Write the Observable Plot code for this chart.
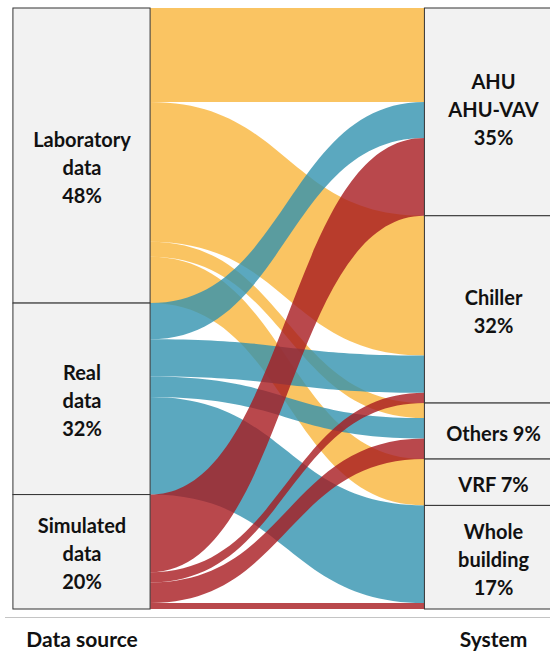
<!DOCTYPE html>
<html>
<head>
<meta charset="utf-8">
<script src="https://cdn.jsdelivr.net/npm/d3@7"></script>
<script src="https://cdn.jsdelivr.net/npm/@observablehq/plot@0.6"></script>
<style>
  html, body { margin: 0; padding: 0; background: #ffffff; }
</style>
</head>
<body>
<div id="chart"></div>
<script>
// ---- data ----
const sources = ["Laboratory data", "Real data", "Simulated data"];
const sourceLabels = ["Laboratory\ndata\n48%", "Real\ndata\n32%", "Simulated\ndata\n20%"];
const targets = ["AHU AHU-VAV", "Chiller", "Others", "VRF", "Whole building"];
const targetLabels = ["AHU\nAHU-VAV\n35%", "Chiller\n32%", "Others 9%", "VRF 7%", "Whole\nbuilding\n17%"];
// share (%) of studies from each data source going to each system (targets order)
const labToSystem = [15.6, 23.2, 2.5, 7.7, 0];
const realToSystem = [6.0, 6.2, 3.4, 0, 16.2];
const simToSystem = [12.9, 1.7, 3.4, 0, 1.0];
const axisLabels = ["Data source", "System"];
const sourceColors = ["#f9b53b", "#3292af", "#a71a1f"];

// ---- layout ----
const matrix = [labToSystem, realToSystem, simToSystem];
const total = d3.sum(matrix.flat());
const W = 1 / 3; // stratum width in x units

const nodes = [];
let acc = 0;
sources.forEach((s, i) => {
  const v = d3.sum(matrix[i]);
  nodes.push({name: s, label: sourceLabels[i], x: 1, y0: acc, y1: acc + v});
  acc += v;
});
acc = 0;
targets.forEach((t, j) => {
  const v = d3.sum(matrix, (row) => row[j]);
  nodes.push({name: t, label: targetLabels[j], x: 2, y0: acc, y1: acc + v});
  acc += v;
});

const flows = [];
sources.forEach((s, i) => {
  targets.forEach((t, j) => {
    if (matrix[i][j] > 0) flows.push({id: s + "→" + t, source: s, i, j, v: matrix[i][j]});
  });
});
// left side stacking: by target order within each source
sources.forEach((s, i) => {
  let off = nodes[i].y0;
  flows.filter((f) => f.i === i).sort((a, b) => a.j - b.j).forEach((f) => { f.ly0 = off; off += f.v; f.ly1 = off; });
});
// right side stacking: by source order within each target
targets.forEach((t, j) => {
  let off = nodes[sources.length + j].y0;
  flows.filter((f) => f.j === j).sort((a, b) => a.i - b.i).forEach((f) => { f.ry0 = off; off += f.v; f.ry1 = off; });
});
const flowPoints = flows.flatMap((f) => [
  {id: f.id, source: f.source, x: 1 + W / 2, y0: f.ly0, y1: f.ly1},
  {id: f.id, source: f.source, x: 2 - W / 2, y0: f.ry0, y1: f.ry1}
]);

// ---- scales geometry ----
const width = 550, height = 651;
const marginTop = 7, marginBottom = 34, marginLeft = 5, marginRight = 0;
const pxPerUnit = 601 / total;
const yLo = -1 / pxPerUnit;
const yHi = yLo + (height - marginTop - marginBottom) / pxPerUnit;
const xPx = 411.5; // pixels between the two axes
const xDomain = [1 - 76.5 / xPx, 2 + (width - marginLeft - 76.5 - xPx) / xPx];

const nudge = {"Laboratory data": 10, "AHU AHU-VAV": -4};
const labelFont = {fontSize: 20, fontWeight: "bold", lineHeight: 1.4, fill: "#111111"};

const chart = Plot.plot({
  width, height, marginTop, marginBottom, marginLeft, marginRight,
  style: {fontFamily: "Lato, sans-serif", background: "#ffffff", overflow: "visible"},
  x: {domain: xDomain, label: null},
  y: {domain: [yLo, yHi], reverse: true, axis: null},
  color: {domain: sources, range: sourceColors},
  marks: [
    Plot.area(flowPoints, {
      x1: "x", y1: "y0", y2: "y1", z: "id", fill: "source",
      fillOpacity: 0.8, curve: "bump-x"
    }),
    Plot.rect(nodes, {
      x1: (d) => d.x - W / 2, x2: (d) => d.x + W / 2, y1: "y0", y2: "y1",
      fill: "#f2f2f2", stroke: "#333333", strokeWidth: 1, clip: true
    }),
    Plot.text(nodes.filter((d) => !(d.name in nudge)), {
      x: "x", y: (d) => (d.y0 + d.y1) / 2, text: "label", ...labelFont
    }),
    ...Object.entries(nudge).map(([name, dy]) => Plot.text(nodes.filter((d) => d.name === name), {
      x: "x", y: (d) => (d.y0 + d.y1) / 2, text: "label", dy, ...labelFont
    })),
    Plot.ruleY([yHi], {stroke: "#c4c4c4", strokeWidth: 1}),
    Plot.axisX({
      ticks: [1, 2], tickFormat: (d) => axisLabels[d - 1], tickSize: 0, tickPadding: 15,
      fontSize: 21, fontWeight: "bold", fill: "#111111", label: null
    })
  ]
});
document.getElementById("chart").appendChild(chart);
</script>
</body>
</html>
